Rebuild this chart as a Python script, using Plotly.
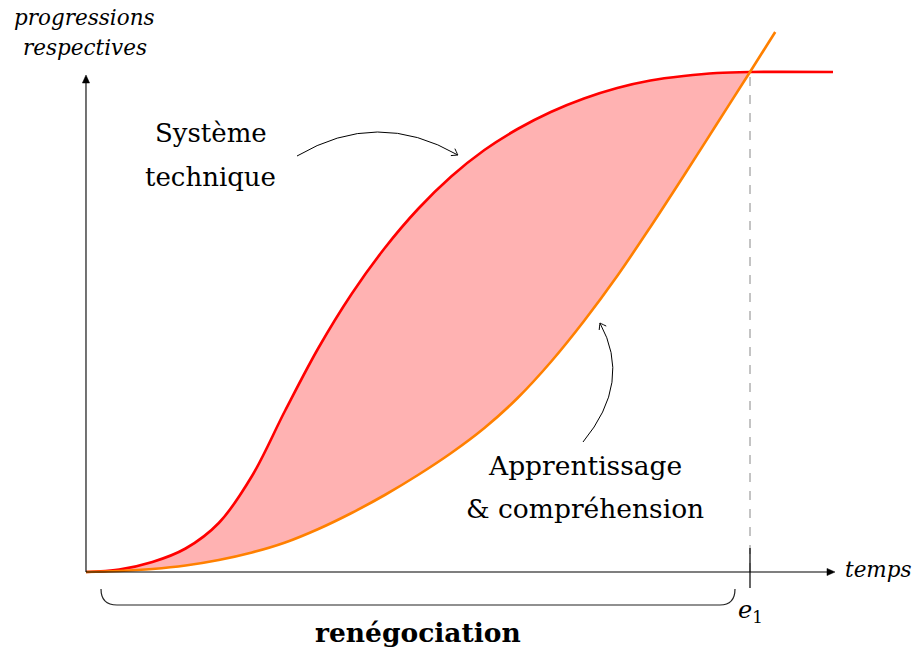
import numpy as np
import plotly.graph_objects as go

# ---- data (time on x, respective progression on y; e1 = 10) ----
sys_t = [0, 0.5, 1.0, 1.5, 2.0, 2.5, 3.0, 3.5, 4.0, 4.5, 5.0, 5.5, 6.0, 6.5,
         7.0, 7.5, 8.0, 8.5, 9.0, 9.5, 10.0]
sys_p = [0, 0.05, 0.20, 0.47, 0.98, 1.92, 3.23, 4.48, 5.56, 6.48, 7.26, 7.91,
         8.44, 8.86, 9.20, 9.47, 9.68, 9.83, 9.92, 9.98, 10.0]
sys_tail_t = [10.0, 11.25]
sys_tail_p = [10.0, 10.0]

app_t = [0, 0.5, 1.0, 1.5, 2.0, 2.5, 3.0, 3.5, 4.0, 4.5, 5.0, 5.5, 6.0, 6.5,
         7.0, 7.5, 8.0, 8.5, 9.0, 9.5, 10.0]
app_p = [0, 0.02, 0.06, 0.13, 0.24, 0.39, 0.59, 0.86, 1.18, 1.54, 1.94, 2.38,
         2.88, 3.48, 4.20, 5.02, 5.92, 6.90, 7.92, 8.96, 10.0]
app_tail_t = [10.0, 10.38]
app_tail_p = [10.0, 10.8]

E1 = 10.0

RED = "#ff0000"
ORANGE = "#ff8000"
FILL = "rgb(255,178,178)"
FONT = "DejaVu Serif"

W, H = 917, 649
X_RANGE = [-1.295, 12.515]
Y_RANGE = [-1.54, 11.44]
PX_X = W / (X_RANGE[1] - X_RANGE[0])   # pixels per time unit
PX_Y = H / (Y_RANGE[1] - Y_RANGE[0])   # pixels per progression unit

fig = go.Figure()

# shaded gap between the two progressions
fig.add_trace(go.Scatter(x=app_t, y=app_p, mode="lines", line=dict(width=0, shape="spline"),
                         hoverinfo="skip", showlegend=False))
fig.add_trace(go.Scatter(x=sys_t, y=sys_p, mode="lines", line=dict(width=0, shape="spline"),
                         fill="tonexty", fillcolor=FILL, hoverinfo="skip", showlegend=False))

# curves
fig.add_trace(go.Scatter(x=sys_t + sys_tail_t[1:], y=sys_p + sys_tail_p[1:], mode="lines",
                         line=dict(color=RED, width=2.6, shape="spline"),
                         showlegend=False))
fig.add_trace(go.Scatter(x=app_t + app_tail_t[1:], y=app_p + app_tail_p[1:], mode="lines",
                         line=dict(color=ORANGE, width=2.6, shape="spline"),
                         showlegend=False))

X_END, Y_END = 11.28, 9.94   # axis arrow tips
shapes = []
# axes
shapes.append(dict(type="line", x0=0, x1=X_END - 0.08, y0=0, y1=0, xref="x", yref="y",
                   line=dict(color="black", width=1.1)))
shapes.append(dict(type="line", x0=0, x1=0, y0=0, y1=Y_END - 0.1, xref="x", yref="y",
                   line=dict(color="black", width=1.1)))
hx, hy = 8.0 / PX_X, 3.6 / PX_Y
shapes.append(dict(type="path", xref="x", yref="y",
                   path=f"M {X_END},0 L {X_END - hx},{hy} L {X_END - hx},{-hy} Z",
                   fillcolor="black", line=dict(color="black", width=0.5)))
vx, vy = 3.6 / PX_X, 8.0 / PX_Y
shapes.append(dict(type="path", xref="x", yref="y",
                   path=f"M 0,{Y_END} L {-vx},{Y_END - vy} L {vx},{Y_END - vy} Z",
                   fillcolor="black", line=dict(color="black", width=0.5)))
# dashed guide at e1
shapes.append(dict(type="line", x0=E1, x1=E1, y0=0, y1=10.0, xref="x", yref="y",
                   line=dict(color="#888888", width=1, dash="dash"), layer="below"))
# tick at e1
shapes.append(dict(type="line", x0=E1, x1=E1, y0=-0.32, y1=0.48, xref="x", yref="y",
                   line=dict(color="black", width=1.2)))
# brace under the time axis
shapes.append(dict(type="path", xref="x", yref="y",
                   path="M 0.226,-0.34 Q 0.226,-0.66 0.467,-0.66 L 9.548,-0.66 "
                        "Q 9.774,-0.66 9.774,-0.34",
                   line=dict(color="#222222", width=1.2)))


def curved_arrow(p0, c, p1):
    """Quadratic callout arrow with an open arrow tip."""
    shapes.append(dict(type="path", xref="x", yref="y",
                       path=f"M {p0[0]},{p0[1]} Q {c[0]},{c[1]} {p1[0]},{p1[1]}",
                       line=dict(color="black", width=1)))
    # tip direction in screen space
    dx = (p1[0] - c[0]) * PX_X
    dy = (p1[1] - c[1]) * PX_Y
    n = np.hypot(dx, dy)
    ux, uy = dx / n, dy / n
    L = 7.0
    pts = []
    for ang in (np.radians(35), -np.radians(35)):
        rx = ux * np.cos(ang) - uy * np.sin(ang)
        ry = ux * np.sin(ang) + uy * np.cos(ang)
        pts.append((p1[0] - L * rx / PX_X, p1[1] - L * ry / PX_Y))
    shapes.append(dict(type="path", xref="x", yref="y",
                       path=f"M {pts[0][0]},{pts[0][1]} Q {p1[0]},{p1[1]} {p1[0]},{p1[1]} "
                            f"Q {p1[0]},{p1[1]} {pts[1][0]},{pts[1][1]}",
                       line=dict(color="black", width=1)))


curved_arrow((3.178, 8.32), (4.39, 9.27), (5.60, 8.34))
curved_arrow((7.485, 2.60), (8.23, 3.80), (7.74, 4.98))

ann = []


def label(x, y, text, size, xanchor="center"):
    ann.append(dict(x=x, y=y, xref="x", yref="y", text=text, showarrow=False,
                    xanchor=xanchor, yanchor="middle",
                    font=dict(family=FONT, size=size, color="black")))


label(-0.015, 11.1, "<i>progressions</i>", 21.5)
label(-0.015, 10.5, "<i>respectives</i>", 21.5)
label(11.40, 0.06, "<i>temps</i>", 21.5, xanchor="left")
label(10.0, -0.78, "<i>e</i><sub>1</sub>", 24)
label(5.0, -1.2, "<b>renégociation</b>", 26.5)
label(1.88, 8.78, "Système", 26)
label(1.88, 7.90, "technique", 26)
label(7.515, 2.14, "Apprentissage", 26.5)
label(7.515, 1.28, "&amp; compréhension", 26.5)

fig.update_layout(
    width=W, height=H, autosize=False,
    margin=dict(l=0, r=0, t=0, b=0),
    paper_bgcolor="white", plot_bgcolor="white",
    xaxis=dict(range=X_RANGE, visible=False, fixedrange=True),
    yaxis=dict(range=Y_RANGE, visible=False, fixedrange=True),
    shapes=shapes, annotations=ann, showlegend=False,
)

fig.write_html("out.html")
